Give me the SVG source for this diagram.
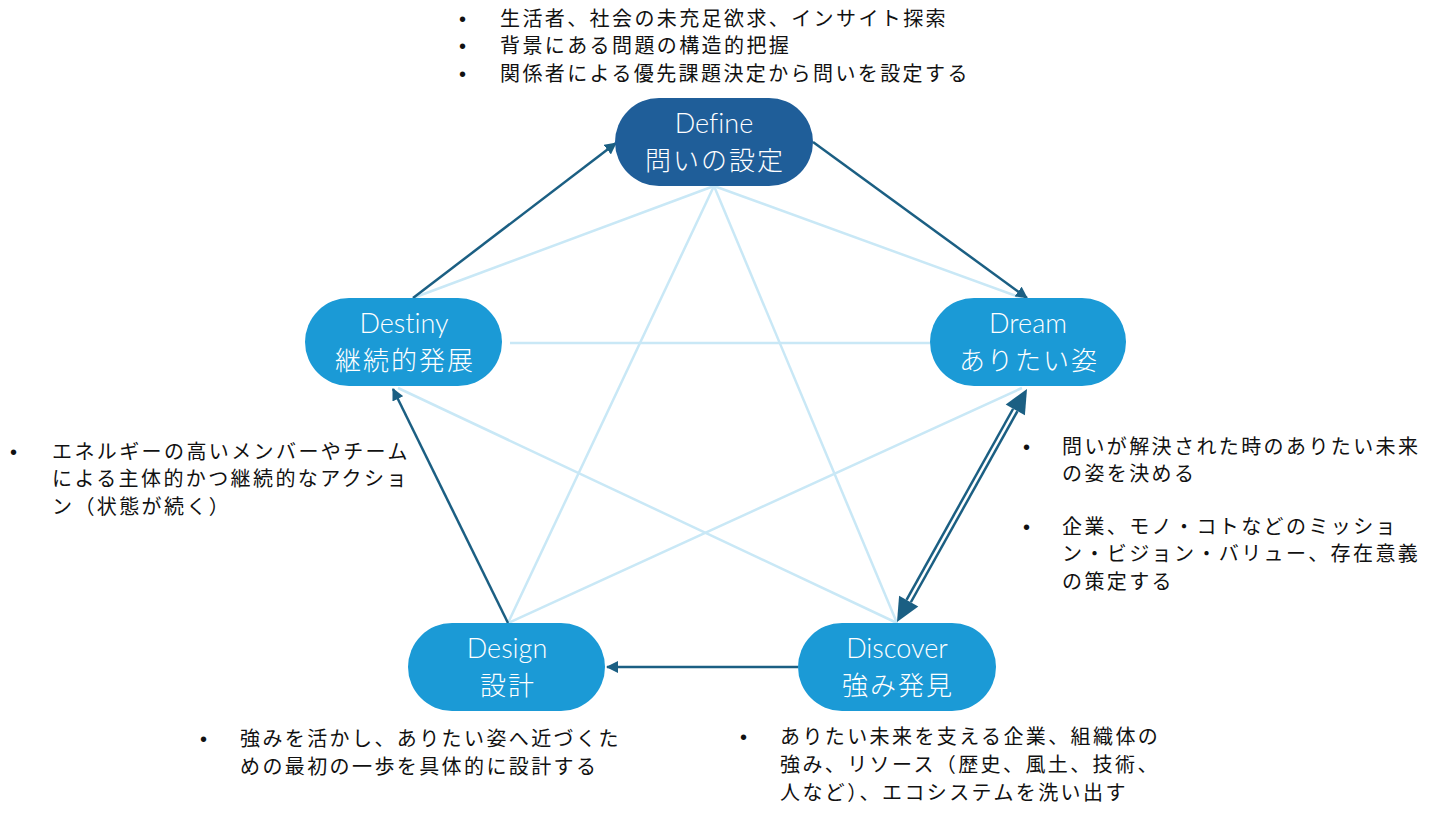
<svg xmlns="http://www.w3.org/2000/svg" width="1440" height="820" viewBox="0 0 1440 820">
<defs>
<style>
.bg{fill:#ffffff}
.light{stroke:#c9e8f6;stroke-width:2.5;fill:none}
.dark{stroke:#1b5f83;stroke-width:2.5;fill:none}
.node{fill:#1b9ad6}
.nodeTop{fill:#1f5e99}
.en{font-family:Lato,"Liberation Sans",sans-serif;font-weight:300;font-size:27px;font-variant-ligatures:none;fill:#ffffff;text-anchor:middle}
.jp{font-family:"Noto Sans CJK JP",sans-serif;font-weight:300;font-size:26px;letter-spacing:2px;fill:#ffffff;text-anchor:middle}
.note{font-family:"Noto Sans CJK JP",sans-serif;font-size:20px;letter-spacing:2.4px;fill:#111111}
.bul{font-family:"Liberation Sans",sans-serif;font-size:20px;fill:#111111}
</style>
<marker id="arr" markerUnits="userSpaceOnUse" markerWidth="14" markerHeight="12" refX="11" refY="6" orient="auto">
<path d="M0,0 L12,6 L0,12 z" fill="#1b5f83"/>
</marker>
</defs>
<rect class="bg" x="0" y="0" width="1440" height="820"/>

<g id="connectors">
<line class="light" x1="714" y1="186" x2="508" y2="623"/>
<line class="light" x1="714" y1="186" x2="897" y2="623"/>
<line class="light" x1="714" y1="186" x2="413" y2="298"/>
<line class="light" x1="714" y1="186" x2="1022" y2="298"/>
<line class="light" x1="510" y1="343" x2="930" y2="343"/>
<line class="light" x1="398" y1="388" x2="897" y2="623"/>
<line class="light" x1="508" y1="623" x2="1022" y2="388"/>

<line class="dark" x1="413" y1="298" x2="616" y2="143" marker-end="url(#arr)"/>
<line class="dark" x1="813" y1="142" x2="1027" y2="298" marker-end="url(#arr)"/>
<line class="dark" x1="798" y1="667" x2="607" y2="667" marker-end="url(#arr)"/>
<line class="dark" x1="508" y1="623" x2="393" y2="389" marker-end="url(#arr)"/>

<line x1="908.7" y1="601" x2="1015.3" y2="410" stroke="#1b5f83" stroke-width="7.5"/>
<line x1="906" y1="606" x2="1018" y2="405" stroke="#ffffff" stroke-width="2.5"/>
<polygon points="1027,389 1024.9,415.3 1005.7,404.6" fill="#1b5f83"/>
<polygon points="897,622 918.3,606.4 899.1,595.7" fill="#1b5f83"/>
</g>

<g id="node-define">
<rect class="nodeTop" x="615" y="98" width="198" height="88" rx="44"/>
<text class="en" x="714" y="133">Define</text>
<text class="jp" x="715" y="170">問いの設定</text>
</g>
<g id="node-dream">
<rect class="node" x="930" y="298" width="196" height="88" rx="44"/>
<text class="en" x="1028" y="333">Dream</text>
<text class="jp" x="1029" y="370">ありたい姿</text>
</g>
<g id="node-destiny">
<rect class="node" x="305" y="298" width="197" height="88" rx="44"/>
<text class="en" x="404" y="333">Destiny</text>
<text class="jp" x="405" y="370">継続的発展</text>
</g>
<g id="node-design">
<rect class="node" x="408" y="623" width="197" height="88" rx="44"/>
<text class="en" x="507" y="658">Design</text>
<text class="jp" x="508" y="695">設計</text>
</g>
<g id="node-discover">
<rect class="node" x="798" y="623" width="198" height="88" rx="44"/>
<text class="en" x="897" y="658">Discover</text>
<text class="jp" x="898" y="695">強み発見</text>
</g>

<g id="note-define">
<text class="bul" x="459" y="26">•</text>
<text class="note" x="500" y="26">生活者、社会の未充足欲求、インサイト探索</text>
<text class="bul" x="459" y="53">•</text>
<text class="note" x="500" y="53">背景にある問題の構造的把握</text>
<text class="bul" x="459" y="81">•</text>
<text class="note" x="500" y="81">関係者による優先課題決定から問いを設定する</text>
</g>
<g id="note-destiny">
<text class="bul" x="10" y="459">•</text>
<text class="note" x="52" y="459">エネルギーの高いメンバーやチーム</text>
<text class="note" x="52" y="486">による主体的かつ継続的なアクショ</text>
<text class="note" x="52" y="514">ン（状態が続く）</text>
</g>
<g id="note-dream">
<text class="bul" x="1023" y="454">•</text>
<text class="note" x="1062" y="454">問いが解決された時のありたい未来</text>
<text class="note" x="1062" y="481">の姿を決める</text>
<text class="bul" x="1023" y="534">•</text>
<text class="note" x="1062" y="534">企業、モノ・コトなどのミッショ</text>
<text class="note" x="1062" y="561">ン・ビジョン・バリュー、存在意義</text>
<text class="note" x="1062" y="589">の策定する</text>
</g>
<g id="note-design">
<text class="bul" x="200" y="746">•</text>
<text class="note" x="240" y="746">強みを活かし、ありたい姿へ近づくた</text>
<text class="note" x="240" y="774">めの最初の一歩を具体的に設計する</text>
</g>
<g id="note-discover">
<text class="bul" x="740" y="744">•</text>
<text class="note" x="780" y="744">ありたい未来を支える企業、組織体の</text>
<text class="note" x="780" y="772">強み、リソース（歴史、風土、技術、</text>
<text class="note" x="780" y="800">人など）、エコシステムを洗い出す</text>
</g>
</svg>
